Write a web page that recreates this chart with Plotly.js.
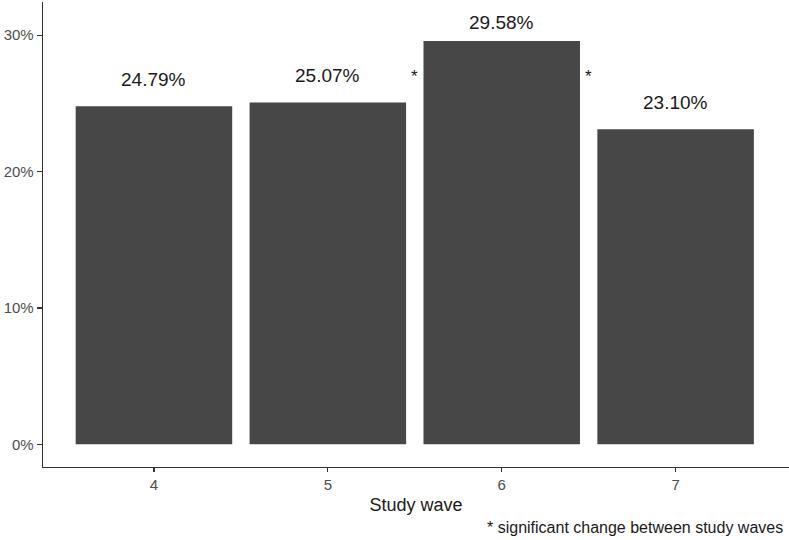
<!DOCTYPE html>
<html>
<head>
<meta charset="utf-8">
<script src="https://cdn.plot.ly/plotly-3.0.1.min.js"></script>
<style>
  html, body { margin: 0; padding: 0; background: #ffffff; }
  #chart { width: 789px; height: 540px; }
</style>
</head>
<body>
<div id="chart"></div>
<script>
// ---- data ----
const waves = ["4", "5", "6", "7"];
const shares = [24.79, 25.07, 29.58, 23.10];          // percent
const valueLabels = ["24.79%", "25.07%", "29.58%", "23.10%"];
const sigMarkerPos = [1.5, 2.5];                        // between waves 5-6 and 6-7
const sigMarkerLevel = 27.0;
const yTicks = [0, 10, 20, 30];
const yTickLabels = ["0%", "10%", "20%", "30%"];
const footnote = "* significant change between study waves";

// ---- styling ----
const FONT = "Liberation Sans, Arial, sans-serif";
const labelShift = [27, 27, 18, 27]; // px above bar top

const annotations = [];
waves.forEach((w, i) => {
  annotations.push({
    x: i, y: shares[i], xref: "x", yref: "y",
    text: valueLabels[i], showarrow: false,
    yanchor: "middle", yshift: labelShift[i],
    font: { family: FONT, size: 19, color: "#1a1a1a" }
  });
});
sigMarkerPos.forEach(p => {
  annotations.push({
    x: p, y: sigMarkerLevel, xref: "x", yref: "y",
    text: "*", showarrow: false, yanchor: "middle",
    font: { family: FONT, size: 17, color: "#1a1a1a" }
  });
});
annotations.push({
  x: 1, y: -0.131, xref: "paper", yref: "paper",
  xanchor: "right", yanchor: "middle", xshift: -4,
  text: footnote, showarrow: false,
  font: { family: FONT, size: 16, color: "#1a1a1a" }
});

const trace = {
  type: "bar",
  x: waves,
  y: shares,
  marker: { color: "#474747", line: { width: 0 } },
  hoverinfo: "skip"
};

const layout = {
  width: 789, height: 540,
  margin: { l: 43, r: 0, t: 2, b: 73 },
  paper_bgcolor: "#ffffff",
  plot_bgcolor: "#ffffff",
  bargap: 0.1,
  showlegend: false,
  font: { family: FONT },
  xaxis: {
    type: "category",
    range: [-0.638, 3.652],
    showgrid: false, zeroline: false,
    showline: true, linecolor: "#333333", linewidth: 1.3, mirror: false,
    ticks: "outside", ticklen: 4, tickcolor: "#333333", tickwidth: 1.2,
    tickfont: { family: FONT, size: 15, color: "#4d4d4d" },
    title: { text: "Study wave", font: { family: FONT, size: 18, color: "#1a1a1a" }, standoff: 6 },
    automargin: false,
    fixedrange: true
  },
  yaxis: {
    range: [-1.66, 32.43],
    tickmode: "array",
    tickvals: yTicks,
    ticktext: yTickLabels,
    showgrid: false, zeroline: false,
    showline: true, linecolor: "#333333", linewidth: 1.3, mirror: false,
    ticks: "outside", ticklen: 5, tickcolor: "#333333", tickwidth: 1.2,
    tickfont: { family: FONT, size: 15, color: "#4d4d4d" },
    automargin: false,
    fixedrange: true
  },
  annotations: annotations
};

Plotly.newPlot("chart", [trace], layout, { displayModeBar: false, staticPlot: true });
</script>
</body>
</html>
